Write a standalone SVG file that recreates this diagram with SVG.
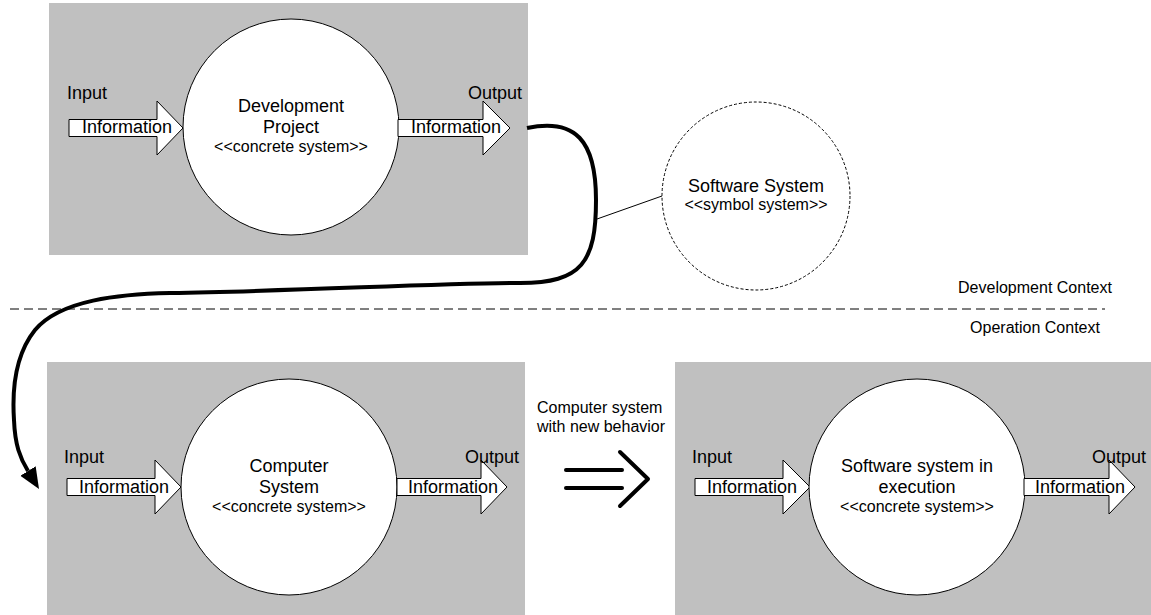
<svg xmlns="http://www.w3.org/2000/svg" width="1151" height="615" viewBox="0 0 1151 615">
  <style>
    .panel { fill: #c0c0c0; stroke: none; }
    .sys { fill: #ffffff; stroke: #000000; stroke-width: 1; }
    .sym { fill: #ffffff; stroke: #000000; stroke-width: 1; stroke-dasharray: 3 2; }
    .flow { fill: #ffffff; stroke: #000000; stroke-width: 1; }
    .t18 { font-family: "Liberation Sans", Arial, sans-serif; font-size: 18px; fill: #000000; }
    .t16 { font-family: "Liberation Sans", Arial, sans-serif; font-size: 16px; fill: #000000; }
    .mid { text-anchor: middle; }
    .thick { fill: none; stroke: #000000; stroke-width: 4; }
    .thin { fill: none; stroke: #000000; stroke-width: 1; }
    .divider { fill: none; stroke: #000000; stroke-width: 1; stroke-dasharray: 9 5; }
    .transform { fill: none; stroke: #000000; stroke-width: 4; stroke-linecap: round; stroke-linejoin: round; }
  </style>
  <defs>
    <marker id="head" markerUnits="userSpaceOnUse" markerWidth="22" markerHeight="20" refX="0" refY="9" orient="auto">
      <path d="M0,0 L21,9 L0,18 z" fill="#000000"/>
    </marker>
  </defs>

  <!-- Development project -->
  <g id="development-project">
    <rect class="panel" x="49" y="3" width="479" height="252"/>
    <path class="flow" d="M69,119.5 H157 V101 L183,128 L157,155 V136.5 H69 z"/>
    <circle class="sys" cx="291" cy="127" r="108"/>
    <path class="flow" d="M398,119.5 H483 V101 L510,128 L483,155 V136.5 H398 z"/>
    <text class="t18" x="67" y="99">Input</text>
    <text class="t18" x="82" y="133">Information</text>
    <text class="t18" x="468" y="99">Output</text>
    <text class="t18" x="411" y="133">Information</text>
    <text class="t18 mid" x="291" y="112">Development</text>
    <text class="t18 mid" x="291" y="133">Project</text>
    <text class="t16 mid" x="291" y="152">&lt;&lt;concrete system&gt;&gt;</text>
  </g>

  <!-- Software system (symbol system) -->
  <g id="software-system">
    <circle class="sym" cx="756" cy="196" r="94"/>
    <text class="t18 mid" x="756" y="192">Software System</text>
    <text class="t16 mid" x="756" y="210">&lt;&lt;symbol system&gt;&gt;</text>
  </g>

  <!-- Context boundary -->
  <g id="context-boundary">
    <line class="divider" x1="10" y1="309" x2="1105" y2="309"/>
    <text class="t16 mid" x="1035" y="293">Development Context</text>
    <text class="t16 mid" x="1035" y="333">Operation Context</text>
  </g>

  <!-- Computer system -->
  <g id="computer-system">
    <rect class="panel" x="47" y="362" width="478" height="253"/>
    <path class="flow" d="M67,478.5 H155 V460 L181,487 L155,514 V495.5 H67 z"/>
    <circle class="sys" cx="289" cy="487" r="108"/>
    <path class="flow" d="M397,478.5 H481 V460 L507,487 L481,514 V495.5 H397 z"/>
    <text class="t18" x="64" y="463">Input</text>
    <text class="t18" x="79" y="493">Information</text>
    <text class="t18" x="465" y="463">Output</text>
    <text class="t18" x="408" y="493">Information</text>
    <text class="t18 mid" x="289" y="472">Computer</text>
    <text class="t18 mid" x="289" y="493">System</text>
    <text class="t16 mid" x="289" y="512">&lt;&lt;concrete system&gt;&gt;</text>
  </g>

  <!-- Software system in execution -->
  <g id="software-in-execution">
    <rect class="panel" x="675" y="362" width="476" height="253"/>
    <path class="flow" d="M695,478.5 H783 V460 L810,487 L783,514 V495.5 H695 z"/>
    <circle class="sys" cx="917" cy="487" r="108"/>
    <path class="flow" d="M1024,478.5 H1109 V460 L1135,487 L1109,514 V495.5 H1024 z"/>
    <text class="t18" x="692" y="463">Input</text>
    <text class="t18" x="707" y="493">Information</text>
    <text class="t18" x="1092" y="463">Output</text>
    <text class="t18" x="1035" y="493">Information</text>
    <text class="t18 mid" x="917" y="472">Software system in</text>
    <text class="t18 mid" x="917" y="493">execution</text>
    <text class="t16 mid" x="917" y="512">&lt;&lt;concrete system&gt;&gt;</text>
  </g>

  <!-- Connectors -->
  <g id="connectors">
    <path class="thick" marker-end="url(#head)" d="M527,128 C575,118 596,140 596,200 C596,262 582,283 520,283 C440,283 300,291 170,293 C120,294 60,300 35,330 C15,355 12,390 14,420 C15,445 20,458 28,471"/>
    <line class="thin" x1="597" y1="219" x2="662" y2="196"/>
    <g id="transformation">
      <line class="transform" x1="566" y1="470" x2="622" y2="470"/>
      <line class="transform" x1="566" y1="488" x2="622" y2="488"/>
      <polyline class="transform" points="620,452 648,479 620,506"/>
    </g>
    <text class="t16" x="537" y="413">Computer system</text>
    <text class="t16" x="537" y="432">with new behavior</text>
  </g>
</svg>
